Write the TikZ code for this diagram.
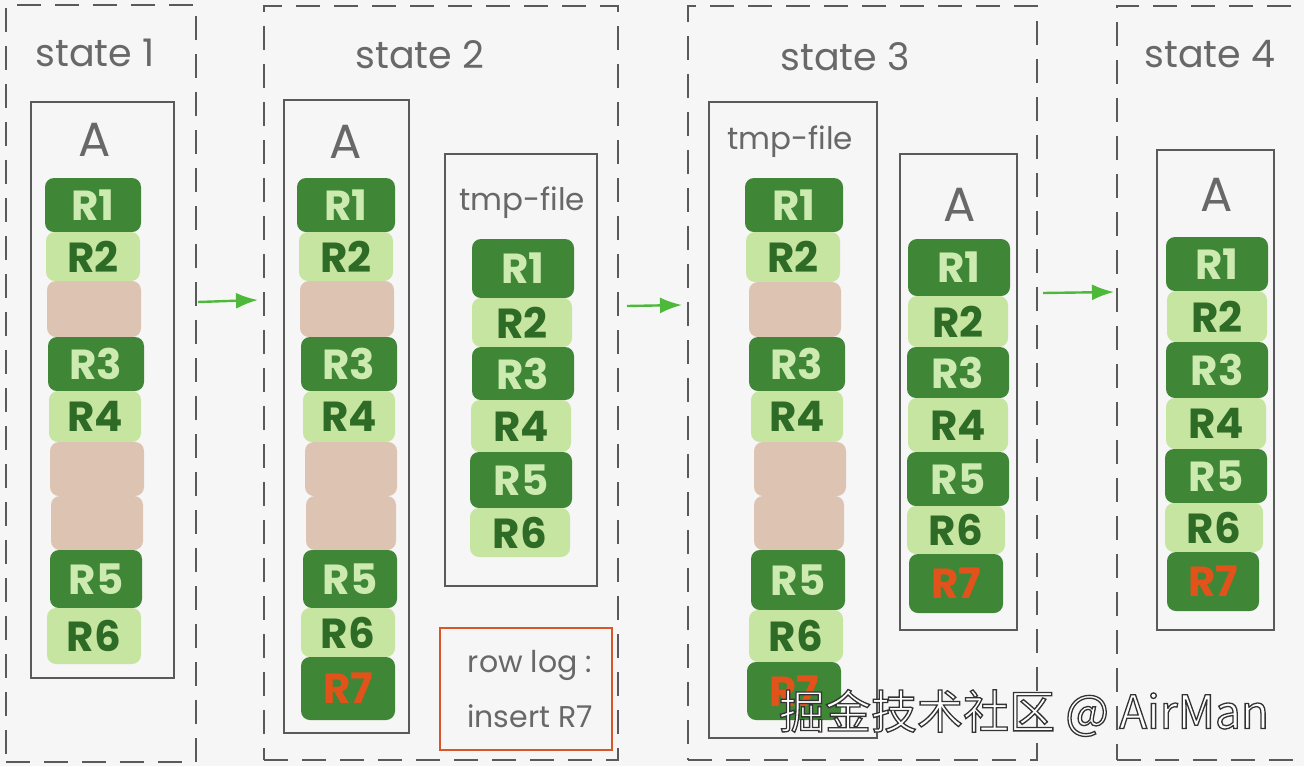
\documentclass[tikz,border=0pt]{standalone}
\usepackage{fontspec}
\setmainfont{Poppins}
\newfontfamily\cjk{Noto Sans CJK SC}
\usetikzlibrary{arrows.meta}
\definecolor{bgc}{HTML}{F6F6F6}
\definecolor{dkg}{HTML}{3F8636}
\definecolor{ltg}{HTML}{C6E5A0}
\definecolor{tanc}{HTML}{DDC3B1}
\definecolor{dktxt}{HTML}{2E6B27}
\definecolor{lttxt}{HTML}{CDEBB0}
\definecolor{redt}{HTML}{E2531C}
\definecolor{framec}{HTML}{5A5A5A}
\definecolor{labc}{HTML}{686868}
\definecolor{arrc}{HTML}{4DB83A}
\definecolor{logc}{HTML}{D9562A}
\newcommand\myblk[7]{%
  \pgfmathsetmacro\hh{#6-#5}\pgfmathsetmacro\cy{(#5+#6)/2}%
  \node[#2, minimum width=#4pt, minimum height=\hh pt] (#1) at (#3,\cy) {#7};}
\newcommand\myfrm[6]{%
  \pgfmathsetmacro\ww{#5-#3}\pgfmathsetmacro\hh{#6-#4}%
  \pgfmathsetmacro\cx{(#3+#5)/2}\pgfmathsetmacro\cy{(#4+#6)/2}%
  \node[#2, minimum width=\ww pt, minimum height=\hh pt] (#1) at (\cx,\cy) {};}
\tikzset{
  blkbase/.style={rounded corners=9pt, inner sep=0pt, font=\fontsize{42}{42}\selectfont\bfseries},
  dk/.style={blkbase, fill=dkg, text=lttxt},
  lt/.style={blkbase, fill=ltg, text=dktxt},
  emp/.style={blkbase, fill=tanc},
  rs/.style={blkbase, fill=dkg, text=redt},
  frm/.style={draw=framec, line width=1.6pt, inner sep=0pt},
  dsh/.style={draw=framec, line width=1.8pt, dash pattern=on 24pt off 14pt, inner sep=0pt},
  logbox/.style={draw=logc, line width=2pt, inner sep=0pt},
  lab/.style={text=labc, font=\fontsize{38}{38}\selectfont, inner sep=0pt},
  alab/.style={text=labc, font=\fontsize{48}{48}\selectfont, inner sep=0pt},
  tlab/.style={text=labc, font=\fontsize{31}{31}\selectfont, inner sep=0pt},
  loglab/.style={text=labc, font=\fontsize{30}{55}\selectfont, align=center, inner sep=0pt},
  garrow/.style={draw=arrc, line width=2.4pt, -{Latex[length=22pt,width=16pt]}},
}
\begin{document}
\begin{tikzpicture}[x=1pt,y=-1pt]
\useasboundingbox (0,0) rectangle (1304,766);
\fill[bgc] (0,0) rectangle (1304,766);
\begin{scope}
\clip (0,0) rectangle (1304,766);
% dashed state boxes
\myfrm{s1}{dsh}{6}{5}{196}{762}
\myfrm{s2}{dsh}{264}{6}{618}{760}
\myfrm{s3}{dsh}{688}{6}{1037}{760}
\myfrm{s4}{dsh}{1117}{6}{1340}{760}
\end{scope}
% state labels
\node[lab] (l1) at (95,53) {state 1};
\node[lab] (l2) at (420,55) {state 2};
\node[lab] (l3) at (845,57) {state 3};
\node[lab] (l4) at (1210,54) {state 4};
% frames
\myfrm{f1}{frm}{31}{102}{174}{678}
\myfrm{f2a}{frm}{284}{100}{409}{733}
\myfrm{f2t}{frm}{445}{154}{597}{586}
\myfrm{f2l}{logbox}{440}{628}{612}{750}
\myfrm{f3t}{frm}{709}{102}{877}{738}
\myfrm{f3a}{frm}{900}{154}{1017}{630}
\myfrm{f4a}{frm}{1157}{150}{1274}{630}
% frame labels
\node[alab] (a1) at (95,140) {A};
\node[alab] (a2) at (346,142) {A};
\node[tlab] (t2) at (522,203) {tmp-file};
\node[tlab] (t3) at (790,142) {tmp-file};
\node[alab] (a3) at (960,205) {A};
\node[alab] (a4) at (1217,195) {A};
\node[loglab] (lg) at (530,689) {row log :\\insert R7};
% state 1
\myblk{b1r1}{dk}{93}{96}{178}{232}{R1}
\myblk{b1r2}{lt}{93}{94}{232}{281}{R2}
\myblk{b1e1}{emp}{94}{94}{281}{337}{}
\myblk{b1r3}{dk}{96}{96}{337}{391}{R3}
\myblk{b1r4}{lt}{95}{92}{391}{442}{R4}
\myblk{b1e2}{emp}{97}{94}{442}{496}{}
\myblk{b1e3}{emp}{97}{92}{496}{550}{}
\myblk{b1r5}{dk}{96}{92}{550}{608}{R5}
\myblk{b1r6}{lt}{94}{94}{608}{664}{R6}
% state 2, A
\myblk{b2r1}{dk}{346}{98}{178}{232}{R1}
\myblk{b2r2}{lt}{346}{94}{232}{281}{R2}
\myblk{b2e1}{emp}{347}{94}{281}{337}{}
\myblk{b2r3}{dk}{349}{96}{337}{391}{R3}
\myblk{b2r4}{lt}{349}{92}{391}{442}{R4}
\myblk{b2e2}{emp}{351}{92}{442}{496}{}
\myblk{b2e3}{emp}{351}{90}{496}{550}{}
\myblk{b2r5}{dk}{350}{94}{550}{608}{R5}
\myblk{b2r6}{lt}{348}{94}{608}{657}{R6}
\myblk{b2r7}{rs}{348}{94}{657}{720}{R7}
% state 2, tmp-file
\myblk{c2r1}{dk}{523}{102}{239}{298}{R1}
\myblk{c2r2}{lt}{522}{100}{298}{347}{R2}
\myblk{c2r3}{dk}{523}{102}{347}{400}{R3}
\myblk{c2r4}{lt}{521}{100}{400}{452}{R4}
\myblk{c2r5}{dk}{521}{102}{452}{508}{R5}
\myblk{c2r6}{lt}{520}{100}{508}{557}{R6}
% state 3, tmp-file
\myblk{b3r1}{dk}{794}{98}{178}{232}{R1}
\myblk{b3r2}{lt}{793}{94}{232}{282}{R2}
\myblk{b3e1}{emp}{795}{92}{282}{337}{}
\myblk{b3r3}{dk}{797}{96}{337}{391}{R3}
\myblk{b3r4}{lt}{797}{92}{391}{442}{R4}
\myblk{b3e2}{emp}{800}{92}{442}{496}{}
\myblk{b3e3}{emp}{799}{90}{496}{550}{}
\myblk{b3r5}{dk}{798}{94}{550}{610}{R5}
\myblk{b3r6}{lt}{796}{94}{610}{662}{R6}
\myblk{b3r7}{rs}{794}{94}{662}{720}{R7}
% state 3, A
\myblk{c3r1}{dk}{959}{102}{239}{296}{R1}
\myblk{c3r2}{lt}{958}{100}{296}{347}{R2}
\myblk{c3r3}{dk}{958}{102}{347}{398}{R3}
\myblk{c3r4}{lt}{958}{100}{398}{452}{R4}
\myblk{c3r5}{dk}{958}{102}{452}{506}{R5}
\myblk{c3r6}{lt}{956}{98}{506}{554}{R6}
\myblk{c3r7}{rs}{956}{94}{554}{613}{R7}
% state 4, A
\myblk{d4r1}{dk}{1217}{102}{237}{291}{R1}
\myblk{d4r2}{lt}{1217}{100}{291}{342}{R2}
\myblk{d4r3}{dk}{1217}{102}{342}{398}{R3}
\myblk{d4r4}{lt}{1216}{100}{398}{449}{R4}
\myblk{d4r5}{dk}{1216}{102}{449}{503}{R5}
\myblk{d4r6}{lt}{1214}{98}{503}{552}{R6}
\myblk{d4r7}{rs}{1213}{92}{552}{611}{R7}
% arrows
\coordinate (p1s) at (198,302);
\coordinate (p1e) at (258,300);
\coordinate (p2s) at (627,306);
\coordinate (p2e) at (682,305);
\coordinate (p3s) at (1043,293);
\coordinate (p3e) at (1114,292);
\draw[garrow] (p1s) -- (p1e);
\draw[garrow] (p2s) -- (p2e);
\draw[garrow] (p3s) -- (p3e);
% watermark
\node[inner sep=0pt, text=white, font=\cjk\fontsize{46}{46}\selectfont] (wm) at (1024,713)
  {\special{pdf:literal direct 2 Tr 1.3 w 0.2 0.2 0.2 RG 1 1 1 rg}掘金技术社区 @ AirMan\special{pdf:literal direct 0 Tr}};
\end{tikzpicture}
\end{document}
